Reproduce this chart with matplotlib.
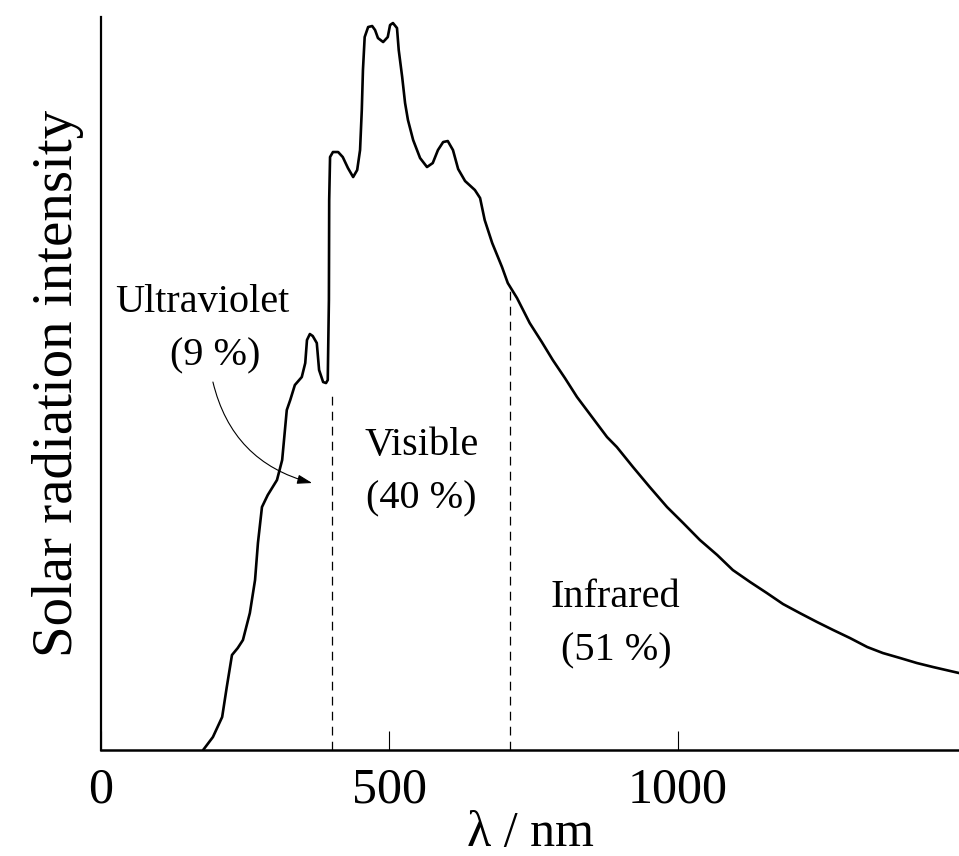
import numpy as np
import matplotlib
matplotlib.use('Agg')
import matplotlib.pyplot as plt

plt.rcParams['font.family'] = ['Liberation Serif', 'DejaVu Serif']

# spectrum (wavelength in nm, intensity in arbitrary units)
wavelength = [177, 194, 210, 218, 227, 237, 246, 258, 267, 272, 279, 289, 305,
              314, 322, 328, 336, 348, 354, 357, 362, 367, 374, 378, 385, 390,
              393, 395, 395.5, 397, 402, 411, 419, 428, 437, 444, 449, 452,
              454, 457, 463, 470, 475, 480, 489, 497, 501, 506, 513, 516, 522,
              527, 532, 541, 553, 565, 575, 584, 593, 601, 610, 619, 631, 648,
              657, 665, 678, 695, 705, 721, 743, 764, 783, 804, 825, 851, 877,
              894, 922, 951, 981, 1009, 1038, 1068, 1095, 1125, 1154, 1182,
              1211, 1241, 1269, 1298, 1328, 1355, 1385, 1414, 1442, 1487]
intensity = [0, 13, 33, 63, 95, 102, 110, 137, 170, 207, 243, 255, 270,
             290, 340, 350, 365, 373, 387, 410, 416, 414, 407, 380, 368, 367,
             370, 450, 550, 593, 598, 598, 593, 582, 573, 580, 600, 640,
             680, 713, 723, 724, 720, 712, 708, 713, 725, 727, 722, 700, 673,
             647, 630, 610, 592, 583, 587, 600, 608, 609, 600, 581, 569, 560,
             552, 530, 507, 483, 467, 452, 427, 408, 390, 372, 353, 333, 313,
             303, 283, 263, 243, 227, 210, 195, 180, 168, 157, 146,
             137, 128, 120, 112, 103, 97, 92, 87, 83, 77]

# band borders (dashed lines) and where they stop under the curve
borders = [400, 709]
border_tops = [360, 462]

# labels for the three bands
band_names = ['Ultraviolet', 'Visible', 'Infrared']
band_shares = ['(9 %)', '(40 %)', '(51 %)']
name_pos = [(175, 438), (555, 295), (891, 143)]
share_pos = [(198, 385), (555, 242), (893, 90)]

xticks = [0, 500, 1000]

fig = plt.figure(figsize=(9.59, 8.56), dpi=100)
ax = fig.add_axes([0.1053, 0.1238, 0.8947, 0.8563])

ax.plot(wavelength, intensity, color='black', lw=1.9,
        solid_joinstyle='round', solid_capstyle='round')

for b, top in zip(borders, border_tops):
    ax.plot([b, b], [0, top], color='black', lw=0.9, ls=(0, (7, 5)))

for name, (x, y) in zip(band_names, name_pos):
    ax.text(x, y, name, ha='center', va='baseline', fontsize=29)
for share, (x, y) in zip(band_shares, share_pos):
    ax.text(x, y, share, ha='center', va='baseline', fontsize=29)

# arrow from the UV label into the visible region
ax.annotate('', xy=(366, 267), xytext=(194, 368),
            arrowprops=dict(arrowstyle='-|>,head_length=0.9,head_width=0.28',
                            color='black', lw=0.8, shrinkA=0, shrinkB=0,
                            connectionstyle='arc3,rad=0.3'))

ax.set_xlim(0, 1487)
ax.set_ylim(0, 733)
ax.spines['top'].set_visible(False)
ax.spines['right'].set_visible(False)
ax.spines['left'].set_linewidth(1.6)
ax.spines['bottom'].set_linewidth(1.8)
ax.set_xticks(xticks)
ax.set_xticklabels([str(t) for t in xticks])
ax.set_yticks([])
ax.tick_params(axis='x', direction='in', length=14, width=0.8, pad=12,
               labelsize=36)
ax.set_xlabel('λ / nm', fontsize=36, labelpad=-2)
ax.set_ylabel('Solar radiation intensity', fontsize=41, labelpad=12)

fig.savefig('out.png', dpi=100)
